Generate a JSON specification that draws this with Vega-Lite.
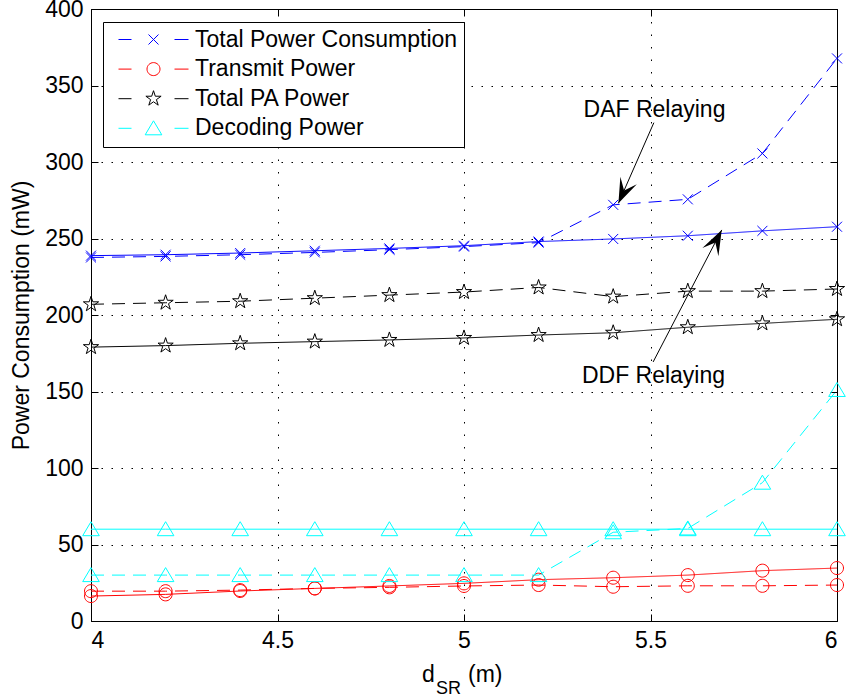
{
  "$schema": "https://vega.github.io/schema/vega-lite/v6.json",
  "width": 746,
  "height": 612,
  "autosize": {"type": "none"},
  "padding": {"left": 91, "top": 9, "right": 9, "bottom": 74},
  "background": "white",
  "config": {
    "font": "Liberation Sans",
    "view": {"stroke": "black", "strokeWidth": 1},
    "axis": {
      "labelFont": "Liberation Sans", "labelFontSize": 23, "labelColor": "black",
      "titleFont": "Liberation Sans", "titleFontSize": 23, "titleColor": "black", "titleFontWeight": "normal",
      "domain": false, "tickColor": "black", "tickSize": -7, "tickWidth": 1,
      "gridColor": "black", "gridOpacity": 1, "gridWidth": 1
    },
    "legend": {
      "title": null, "orient": "none", "legendX": 12, "legendY": 13, "direction": "vertical",
      "labelFont": "Liberation Sans", "labelFontSize": 23, "labelColor": "black", "labelLimit": 400,
      "symbolSize": 400, "symbolStrokeWidth": 1, "symbolOffset": 33, "labelOffset": 30,
      "padding": 6, "rowPadding": 5.6, "strokeColor": "black", "fillColor": "white", "cornerRadius": 0
    }
  },
  "datasets": {
    "series": [
      {"quantity": "Total Power Consumption", "scheme": "DDF", "d": 4.0, "power": 238.8},
      {"quantity": "Total Power Consumption", "scheme": "DDF", "d": 4.2, "power": 239.4},
      {"quantity": "Total Power Consumption", "scheme": "DDF", "d": 4.4, "power": 240.5},
      {"quantity": "Total Power Consumption", "scheme": "DDF", "d": 4.6, "power": 242.0},
      {"quantity": "Total Power Consumption", "scheme": "DDF", "d": 4.8, "power": 243.5},
      {"quantity": "Total Power Consumption", "scheme": "DDF", "d": 5.0, "power": 245.3},
      {"quantity": "Total Power Consumption", "scheme": "DDF", "d": 5.2, "power": 248.0},
      {"quantity": "Total Power Consumption", "scheme": "DDF", "d": 5.4, "power": 249.7},
      {"quantity": "Total Power Consumption", "scheme": "DDF", "d": 5.6, "power": 251.8},
      {"quantity": "Total Power Consumption", "scheme": "DDF", "d": 5.8, "power": 255.0},
      {"quantity": "Total Power Consumption", "scheme": "DDF", "d": 6.0, "power": 257.7},
      {"quantity": "Total Power Consumption", "scheme": "DAF", "d": 4.0, "power": 237.6},
      {"quantity": "Total Power Consumption", "scheme": "DAF", "d": 4.2, "power": 238.3},
      {"quantity": "Total Power Consumption", "scheme": "DAF", "d": 4.4, "power": 239.4},
      {"quantity": "Total Power Consumption", "scheme": "DAF", "d": 4.6, "power": 240.9},
      {"quantity": "Total Power Consumption", "scheme": "DAF", "d": 4.8, "power": 242.7},
      {"quantity": "Total Power Consumption", "scheme": "DAF", "d": 5.0, "power": 244.7},
      {"quantity": "Total Power Consumption", "scheme": "DAF", "d": 5.2, "power": 247.3},
      {"quantity": "Total Power Consumption", "scheme": "DAF", "d": 5.4, "power": 272.0},
      {"quantity": "Total Power Consumption", "scheme": "DAF", "d": 5.6, "power": 275.6},
      {"quantity": "Total Power Consumption", "scheme": "DAF", "d": 5.8, "power": 305.6},
      {"quantity": "Total Power Consumption", "scheme": "DAF", "d": 6.0, "power": 367.7},
      {"quantity": "Transmit Power", "scheme": "DDF", "d": 4.0, "power": 16.3},
      {"quantity": "Transmit Power", "scheme": "DDF", "d": 4.2, "power": 17.4},
      {"quantity": "Transmit Power", "scheme": "DDF", "d": 4.4, "power": 19.6},
      {"quantity": "Transmit Power", "scheme": "DDF", "d": 4.6, "power": 21.3},
      {"quantity": "Transmit Power", "scheme": "DDF", "d": 4.8, "power": 22.9},
      {"quantity": "Transmit Power", "scheme": "DDF", "d": 5.0, "power": 24.6},
      {"quantity": "Transmit Power", "scheme": "DDF", "d": 5.2, "power": 27.0},
      {"quantity": "Transmit Power", "scheme": "DDF", "d": 5.4, "power": 28.3},
      {"quantity": "Transmit Power", "scheme": "DDF", "d": 5.6, "power": 30.0},
      {"quantity": "Transmit Power", "scheme": "DDF", "d": 5.8, "power": 32.9},
      {"quantity": "Transmit Power", "scheme": "DDF", "d": 6.0, "power": 34.6},
      {"quantity": "Transmit Power", "scheme": "DAF", "d": 4.0, "power": 19.5},
      {"quantity": "Transmit Power", "scheme": "DAF", "d": 4.2, "power": 19.5},
      {"quantity": "Transmit Power", "scheme": "DAF", "d": 4.4, "power": 20.2},
      {"quantity": "Transmit Power", "scheme": "DAF", "d": 4.6, "power": 21.3},
      {"quantity": "Transmit Power", "scheme": "DAF", "d": 4.8, "power": 22.0},
      {"quantity": "Transmit Power", "scheme": "DAF", "d": 5.0, "power": 22.9},
      {"quantity": "Transmit Power", "scheme": "DAF", "d": 5.2, "power": 23.5},
      {"quantity": "Transmit Power", "scheme": "DAF", "d": 5.4, "power": 22.4},
      {"quantity": "Transmit Power", "scheme": "DAF", "d": 5.6, "power": 23.0},
      {"quantity": "Transmit Power", "scheme": "DAF", "d": 5.8, "power": 23.0},
      {"quantity": "Transmit Power", "scheme": "DAF", "d": 6.0, "power": 23.5},
      {"quantity": "Total PA Power", "scheme": "DDF", "d": 4.0, "power": 179.0},
      {"quantity": "Total PA Power", "scheme": "DDF", "d": 4.2, "power": 180.0},
      {"quantity": "Total PA Power", "scheme": "DDF", "d": 4.4, "power": 181.5},
      {"quantity": "Total PA Power", "scheme": "DDF", "d": 4.6, "power": 182.6},
      {"quantity": "Total PA Power", "scheme": "DDF", "d": 4.8, "power": 183.7},
      {"quantity": "Total PA Power", "scheme": "DDF", "d": 5.0, "power": 185.0},
      {"quantity": "Total PA Power", "scheme": "DDF", "d": 5.2, "power": 186.9},
      {"quantity": "Total PA Power", "scheme": "DDF", "d": 5.4, "power": 188.4},
      {"quantity": "Total PA Power", "scheme": "DDF", "d": 5.6, "power": 192.0},
      {"quantity": "Total PA Power", "scheme": "DDF", "d": 5.8, "power": 194.5},
      {"quantity": "Total PA Power", "scheme": "DDF", "d": 6.0, "power": 197.2},
      {"quantity": "Total PA Power", "scheme": "DAF", "d": 4.0, "power": 207.0},
      {"quantity": "Total PA Power", "scheme": "DAF", "d": 4.2, "power": 208.0},
      {"quantity": "Total PA Power", "scheme": "DAF", "d": 4.4, "power": 209.0},
      {"quantity": "Total PA Power", "scheme": "DAF", "d": 4.6, "power": 211.0},
      {"quantity": "Total PA Power", "scheme": "DAF", "d": 4.8, "power": 213.0},
      {"quantity": "Total PA Power", "scheme": "DAF", "d": 5.0, "power": 215.0},
      {"quantity": "Total PA Power", "scheme": "DAF", "d": 5.2, "power": 218.0},
      {"quantity": "Total PA Power", "scheme": "DAF", "d": 5.4, "power": 212.0},
      {"quantity": "Total PA Power", "scheme": "DAF", "d": 5.6, "power": 215.6},
      {"quantity": "Total PA Power", "scheme": "DAF", "d": 5.8, "power": 215.6},
      {"quantity": "Total PA Power", "scheme": "DAF", "d": 6.0, "power": 217.0},
      {"quantity": "Decoding Power", "scheme": "DDF", "d": 4.0, "power": 60},
      {"quantity": "Decoding Power", "scheme": "DDF", "d": 4.2, "power": 60},
      {"quantity": "Decoding Power", "scheme": "DDF", "d": 4.4, "power": 60},
      {"quantity": "Decoding Power", "scheme": "DDF", "d": 4.6, "power": 60},
      {"quantity": "Decoding Power", "scheme": "DDF", "d": 4.8, "power": 60},
      {"quantity": "Decoding Power", "scheme": "DDF", "d": 5.0, "power": 60},
      {"quantity": "Decoding Power", "scheme": "DDF", "d": 5.2, "power": 60},
      {"quantity": "Decoding Power", "scheme": "DDF", "d": 5.4, "power": 60},
      {"quantity": "Decoding Power", "scheme": "DDF", "d": 5.6, "power": 60},
      {"quantity": "Decoding Power", "scheme": "DDF", "d": 5.8, "power": 60},
      {"quantity": "Decoding Power", "scheme": "DDF", "d": 6.0, "power": 60},
      {"quantity": "Decoding Power", "scheme": "DAF", "d": 4.0, "power": 30},
      {"quantity": "Decoding Power", "scheme": "DAF", "d": 4.2, "power": 30},
      {"quantity": "Decoding Power", "scheme": "DAF", "d": 4.4, "power": 30},
      {"quantity": "Decoding Power", "scheme": "DAF", "d": 4.6, "power": 30},
      {"quantity": "Decoding Power", "scheme": "DAF", "d": 4.8, "power": 30},
      {"quantity": "Decoding Power", "scheme": "DAF", "d": 5.0, "power": 30},
      {"quantity": "Decoding Power", "scheme": "DAF", "d": 5.2, "power": 30},
      {"quantity": "Decoding Power", "scheme": "DAF", "d": 5.4, "power": 58},
      {"quantity": "Decoding Power", "scheme": "DAF", "d": 5.6, "power": 60.5},
      {"quantity": "Decoding Power", "scheme": "DAF", "d": 5.8, "power": 90.4},
      {"quantity": "Decoding Power", "scheme": "DAF", "d": 6.0, "power": 151}
    ],
    "notes": [
      {"label": "DAF Relaying", "fromD": 5.509, "fromP": 325.7, "toD": 5.414, "toP": 273.0, "textD": 5.5107, "textP": 329.6},
      {"label": "DDF Relaying", "fromD": 5.507, "fromP": 169.3, "toD": 5.691, "toP": 255.6, "textD": 5.508, "textP": 155.4}
    ],
    "one": [{}]
  },
  "layer": [
    {
      "data": {"name": "series"},
      "mark": {"type": "line", "strokeWidth": 1, "clip": false},
      "encoding": {
        "x": {"field": "d", "type": "quantitative",
          "scale": {"domain": [4, 6], "nice": false, "zero": false},
          "axis": {"orient": "bottom", "values": [4, 4.5, 5, 5.5, 6], "labelExpr": "'' + datum.value", "grid": true, "gridDash": [1.5, 11], "title": null, "labelPadding": 15}},
        "y": {"field": "power", "type": "quantitative",
          "scale": {"domain": [0, 400], "nice": false, "zero": true},
          "axis": {"orient": "left", "values": [0, 50, 100, 150, 200, 250, 300, 350, 400], "grid": true, "gridDash": [1.5, 8.5], "title": "Power Consumption (mW)", "labelPadding": 15, "titlePadding": 11}},
        "color": {"field": "quantity", "type": "nominal",
          "scale": {"domain": ["Total Power Consumption", "Transmit Power", "Total PA Power", "Decoding Power"], "range": ["#0000ff", "#ff0000", "#000000", "#00ffff"]}},
        "strokeDash": {"field": "scheme", "type": "nominal",
          "scale": {"domain": ["DDF", "DAF"], "range": [[1, 0], [13, 8]]}, "legend": null}
      }
    },
    {
      "data": {"name": "series"},
      "transform": [{"filter": "false"}],
      "mark": {"type": "point", "filled": false, "strokeWidth": 1, "size": 400, "opacity": 1},
      "encoding": {
        "x": {"field": "d", "type": "quantitative",
          "axis": {"orient": "top", "values": [4, 4.5, 5, 5.5, 6], "labels": false, "grid": false, "title": null}},
        "y": {"field": "power", "type": "quantitative",
          "axis": {"orient": "right", "values": [0, 50, 100, 150, 200, 250, 300, 350, 400], "labels": false, "grid": false, "title": null}},
        "color": {"field": "quantity", "type": "nominal"},
        "shape": {"field": "quantity", "type": "nominal",
          "scale": {"domain": ["Total Power Consumption", "Transmit Power", "Total PA Power", "Decoding Power"],
            "range": [
              "M-3.5,0L-2.2,0M-0.5,-0.5L0.5,0.5M-0.5,0.5L0.5,-0.5M2.1,0L3.5,0",
              "M-3.5,0L-2.2,0M0.65,0A0.65,0.65,0,1,1,-0.65,0A0.65,0.65,0,1,1,0.65,0M2.1,0L3.5,0",
              "M-3.5,0L-2.2,0M0,-0.8L0.18,-0.247L0.761,-0.247L0.29,0.094L0.47,0.647L0,0.306L-0.47,0.647L-0.29,0.094L-0.761,-0.247L-0.18,-0.247ZM2.1,0L3.5,0",
              "M-3.5,0L-2.2,0M0,-0.75L0.83,0.65L-0.83,0.65ZM2.1,0L3.5,0"
            ]}}
      }
    },
    {
      "data": {"name": "series"},
      "transform": [{"filter": "datum.quantity === 'Total Power Consumption'"}],
      "mark": {"type": "point", "filled": false, "strokeWidth": 1, "size": 400, "opacity": 1, "clip": false, "color": "#0000ff", "shape": "M-0.5,-0.5L0.5,0.5M-0.5,0.5L0.5,-0.5"},
      "encoding": {
        "x": {"field": "d", "type": "quantitative", "axis": null},
        "y": {"field": "power", "type": "quantitative", "axis": null}
      }
    },
    {
      "data": {"name": "series"},
      "transform": [{"filter": "datum.quantity === 'Transmit Power'"}],
      "mark": {"type": "point", "filled": false, "strokeWidth": 1, "size": 400, "opacity": 1, "clip": false, "color": "#ff0000", "shape": "M0.65,0A0.65,0.65,0,1,1,-0.65,0A0.65,0.65,0,1,1,0.65,0Z"},
      "encoding": {
        "x": {"field": "d", "type": "quantitative", "axis": null},
        "y": {"field": "power", "type": "quantitative", "axis": null}
      }
    },
    {
      "data": {"name": "series"},
      "transform": [{"filter": "datum.quantity === 'Total PA Power'"}],
      "mark": {"type": "point", "filled": false, "strokeWidth": 1, "size": 400, "opacity": 1, "clip": false, "color": "#000000", "shape": "M0,-0.8L0.18,-0.247L0.761,-0.247L0.29,0.094L0.47,0.647L0,0.306L-0.47,0.647L-0.29,0.094L-0.761,-0.247L-0.18,-0.247Z"},
      "encoding": {
        "x": {"field": "d", "type": "quantitative", "axis": null},
        "y": {"field": "power", "type": "quantitative", "axis": null}
      }
    },
    {
      "data": {"name": "series"},
      "transform": [{"filter": "datum.quantity === 'Decoding Power'"}],
      "mark": {"type": "point", "filled": false, "strokeWidth": 1, "size": 400, "opacity": 1, "clip": false, "color": "#00ffff", "shape": "M0,-0.75L0.83,0.65L-0.83,0.65Z"},
      "encoding": {
        "x": {"field": "d", "type": "quantitative", "axis": null},
        "y": {"field": "power", "type": "quantitative", "axis": null}
      }
    },
    {
      "data": {"name": "notes"},
      "mark": {"type": "rule", "color": "black", "strokeWidth": 1},
      "encoding": {
        "x": {"field": "fromD", "type": "quantitative", "axis": null},
        "y": {"field": "fromP", "type": "quantitative", "axis": null},
        "x2": {"field": "toD"},
        "y2": {"field": "toP"}
      }
    },
    {
      "data": {"name": "notes"},
      "transform": [{"filter": "datum.label === 'DAF Relaying'"}],
      "mark": {"type": "point", "filled": true, "color": "black", "opacity": 1, "size": 400, "angle": 204, "shape": "M0,0L0.9,2.5L0,1.4L-0.9,2.5Z", "strokeWidth": 0},
      "encoding": {
        "x": {"field": "toD", "type": "quantitative", "axis": null},
        "y": {"field": "toP", "type": "quantitative", "axis": null}
      }
    },
    {
      "data": {"name": "notes"},
      "transform": [{"filter": "datum.label === 'DDF Relaying'"}],
      "mark": {"type": "point", "filled": true, "color": "black", "opacity": 1, "size": 400, "angle": 27, "shape": "M0,0L0.9,2.5L0,1.4L-0.9,2.5Z", "strokeWidth": 0},
      "encoding": {
        "x": {"field": "toD", "type": "quantitative", "axis": null},
        "y": {"field": "toP", "type": "quantitative", "axis": null}
      }
    },
    {
      "data": {"name": "notes"},
      "mark": {"type": "text", "font": "Liberation Sans", "fontSize": 23, "align": "center", "baseline": "alphabetic", "color": "black"},
      "encoding": {
        "x": {"field": "textD", "type": "quantitative", "axis": null},
        "y": {"field": "textP", "type": "quantitative", "axis": null},
        "text": {"field": "label"}
      }
    },
    {
      "data": {"name": "one"},
      "mark": {"type": "text", "text": "d", "font": "Liberation Sans", "fontSize": 23, "align": "left", "baseline": "alphabetic", "color": "black", "dx": -42, "dy": 61},
      "encoding": {"x": {"datum": 5, "type": "quantitative", "axis": null}, "y": {"datum": 0, "type": "quantitative", "axis": null}}
    },
    {
      "data": {"name": "one"},
      "mark": {"type": "text", "text": "SR", "font": "Liberation Sans", "fontSize": 18, "align": "left", "baseline": "alphabetic", "color": "black", "dx": -28, "dy": 73},
      "encoding": {"x": {"datum": 5, "type": "quantitative", "axis": null}, "y": {"datum": 0, "type": "quantitative", "axis": null}}
    },
    {
      "data": {"name": "one"},
      "mark": {"type": "text", "text": "(m)", "font": "Liberation Sans", "fontSize": 23, "align": "left", "baseline": "alphabetic", "color": "black", "dx": 4, "dy": 61},
      "encoding": {"x": {"datum": 5, "type": "quantitative", "axis": null}, "y": {"datum": 0, "type": "quantitative", "axis": null}}
    }
  ],
  "resolve": {"axis": {"x": "independent", "y": "independent"}}
}
